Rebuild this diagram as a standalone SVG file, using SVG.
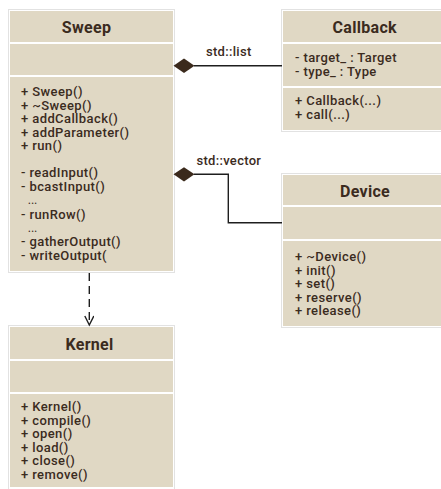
<svg xmlns="http://www.w3.org/2000/svg" width="441" height="489" viewBox="0 0 441 489">
<defs>
<style>
.frame{fill:#ffffff;stroke:#e2e2e2;stroke-width:1}
.cell{fill:#e0d8c4}
.title{font-family:Roboto,"Liberation Sans",sans-serif;font-size:16px;font-weight:700;fill:#3b2b1e;text-anchor:middle;letter-spacing:0.3px}
.txt{font-family:Roboto,"Liberation Sans",sans-serif;font-size:13px;font-weight:500;fill:#3b2b1e;letter-spacing:0.4px}
.dots{font-family:Roboto,"Liberation Sans",sans-serif;font-size:10px;font-weight:500;fill:#3b2b1e;letter-spacing:0.4px}
.lbl{font-family:Roboto,"Liberation Sans",sans-serif;font-size:13px;font-weight:500;fill:#3b2b1e;letter-spacing:0.3px}
.line{fill:none;stroke:#1e1e1e;stroke-width:1.4}
.dash{fill:none;stroke:#1e1e1e;stroke-width:1.4;stroke-dasharray:8 5}
.dia{fill:#3b2a1c}
</style>
<marker id="open" markerWidth="12" markerHeight="10" refX="10" refY="5" orient="auto" markerUnits="userSpaceOnUse">
<path d="M1,0.5 L10,5 L1,9.5" fill="none" stroke="#1e1e1e" stroke-width="1.4"/>
</marker>
</defs>
<rect width="441" height="489" fill="#ffffff"/>

<g id="Sweep">
<rect class="frame" x="8.5" y="9.5" width="166" height="263"/>
<rect class="cell" x="10" y="11" width="163" height="31"/>
<rect class="cell" x="10" y="44" width="163" height="31"/>
<rect class="cell" x="10" y="77" width="163" height="194"/>
<text class="title" x="86.5" y="33">Sweep</text>
<text class="txt" x="21" y="96">+ Sweep()</text>
<text class="txt" x="21" y="109.5">+ ~Sweep()</text>
<text class="txt" x="21" y="123">+ addCallback()</text>
<text class="txt" x="21" y="136.5">+ addParameter()</text>
<text class="txt" x="21" y="150">+ run()</text>
<text class="txt" x="21" y="177">- readInput()</text>
<text class="txt" x="21" y="191">- bcastInput()</text>
<text class="dots" x="28" y="203.7">...</text>
<text class="txt" x="21" y="218.5">- runRow()</text>
<text class="dots" x="28" y="231.5">...</text>
<text class="txt" x="21" y="246.3">- gatherOutput()</text>
<text class="txt" x="21" y="260">- writeOutput(</text>
</g>

<g id="Callback">
<rect class="frame" x="281.5" y="9.5" width="170" height="122"/>
<rect class="cell" x="283" y="11" width="168" height="31"/>
<rect class="cell" x="283" y="44" width="168" height="42"/>
<rect class="cell" x="283" y="88" width="168" height="42"/>
<text class="title" x="364.7" y="33">Callback</text>
<text class="txt" x="295" y="62">- target_ : Target</text>
<text class="txt" x="295" y="76">- type_ : Type</text>
<text class="txt" x="295" y="105">+ Callback(...)</text>
<text class="txt" x="295" y="119">+ call(...)</text>
</g>

<g id="Device">
<rect class="frame" x="281.5" y="173.5" width="170" height="154"/>
<rect class="cell" x="283" y="175" width="168" height="30"/>
<rect class="cell" x="283" y="207" width="168" height="32"/>
<rect class="cell" x="283" y="241" width="168" height="85"/>
<text class="title" x="365" y="197">Device</text>
<text class="txt" x="295" y="261">+ ~Device()</text>
<text class="txt" x="295" y="274.5">+ init()</text>
<text class="txt" x="295" y="288">+ set()</text>
<text class="txt" x="295" y="301.5">+ reserve()</text>
<text class="txt" x="295" y="315">+ release()</text>
</g>

<g id="Kernel">
<rect class="frame" x="8.5" y="325.5" width="166" height="170"/>
<rect class="cell" x="10" y="327" width="163" height="32"/>
<rect class="cell" x="10" y="361" width="163" height="31"/>
<rect class="cell" x="10" y="394" width="163" height="93"/>
<text class="title" x="89.5" y="350">Kernel</text>
<text class="txt" x="21" y="411">+ Kernel()</text>
<text class="txt" x="21" y="424.5">+ compile()</text>
<text class="txt" x="21" y="438">+ open()</text>
<text class="txt" x="21" y="451.5">+ load()</text>
<text class="txt" x="21" y="465">+ close()</text>
<text class="txt" x="21" y="478.5">+ remove()</text>
</g>

<g id="connectors">
<path class="line" d="M194,65.7 H282"/>
<polygon class="dia" points="173.5,65.7 184,58.5 194.5,65.7 184,73"/>
<text class="lbl" x="206" y="56">std::list</text>
<path class="line" d="M194,174.3 H228.3 V222.7 H282" stroke="#333"/>
<polygon class="dia" points="173.5,174.3 184,167.2 194.5,174.3 184,181.5"/>
<text class="lbl" x="196.5" y="165">std::vector</text>
<path class="dash" d="M89.3,273 V325" marker-end="url(#open)"/>
</g>
</svg>
